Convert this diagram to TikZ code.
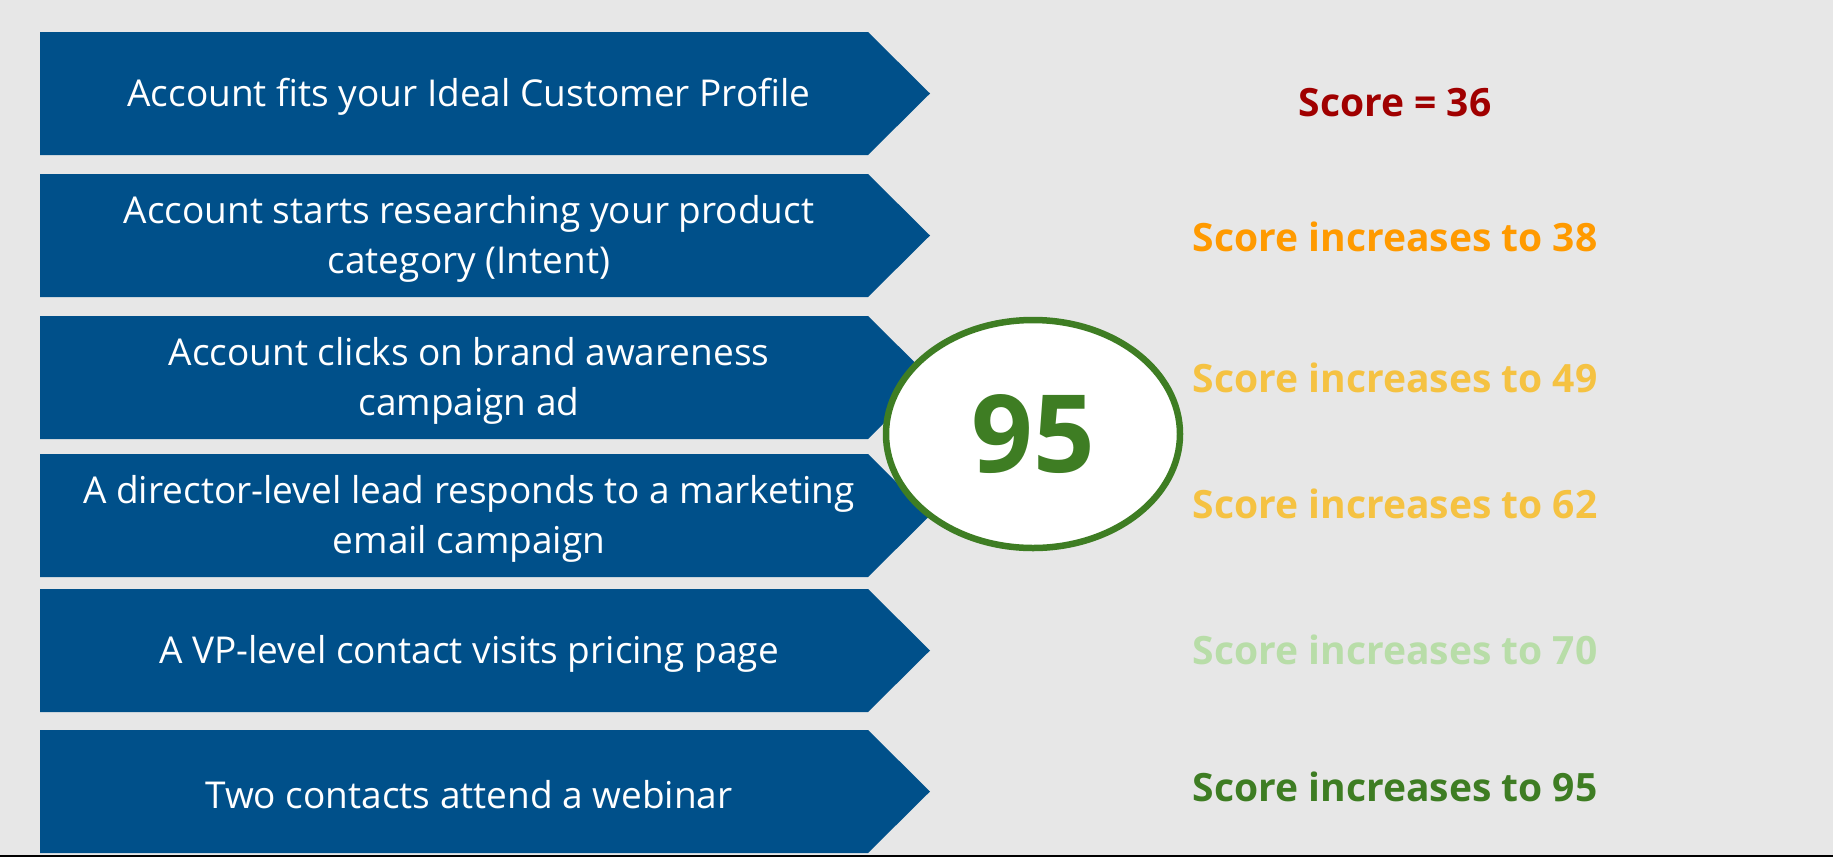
\documentclass[tikz,border=0pt]{standalone}
\usepackage{fontspec}
\setmainfont{Open Sans}
\usetikzlibrary{shapes.geometric}
\definecolor{bg}{HTML}{E7E7E7}
\definecolor{boxblue}{HTML}{00508A}
\definecolor{sred}{HTML}{A00000}
\definecolor{sorange}{HTML}{FF9A00}
\definecolor{syellow}{HTML}{F5C242}
\definecolor{slgreen}{HTML}{B8DDA8}
\definecolor{sgreen}{HTML}{3E7D23}
\newcommand\chevbox[3]{%
  \fill[boxblue] (40,#1) -- (868,#1) -- (930,#1+61.5) -- (868,#1+123) -- (40,#1+123) -- cycle;
  \node[boxtext] (#2) at (469,#1+65) {#3};}
\begin{document}
\begin{tikzpicture}[x=1pt,y=-1pt,
  boxtext/.style={text=white, align=center, font=\fontsize{37}{50}\selectfont, inner sep=0pt},
  scoretext/.style={font=\fontsize{39}{44}\selectfont\bfseries, inner sep=0pt, anchor=center}]
\useasboundingbox (0,0) rectangle (1833,857);
\fill[bg] (0,0) rectangle (1833,857);
\fill[black] (0,855) rectangle (1833,857);
\chevbox{32}{b1}{Account fits your Ideal Customer Profile}
\chevbox{174}{b2}{Account starts researching your product\\category (Intent)}
\chevbox{316}{b3}{Account clicks on brand awareness\\campaign ad}
\chevbox{454}{b4}{A director-level lead responds to a marketing\\email campaign}
\chevbox{589}{b5}{A VP-level contact visits pricing page}
\chevbox{730}{b6}{Two contacts attend a webinar}
\node[ellipse, draw=sgreen, line width=6.5pt, fill=white, minimum width=294pt, minimum height=228pt, inner sep=0pt,
  text=sgreen, font=\fontsize{108}{110}\selectfont\bfseries] (score) at (1033,434) {95};
\node[scoretext, text=sred] (s1) at (1395,103) {Score = 36};
\node[scoretext, text=sorange] (s2) at (1395,237) {Score increases to 38};
\node[scoretext, text=syellow] (s3) at (1395,378) {Score increases to 49};
\node[scoretext, text=syellow] (s4) at (1395,504) {Score increases to 62};
\node[scoretext, text=slgreen] (s5) at (1395,650) {Score increases to 70};
\node[scoretext, text=sgreen] (s6) at (1395,787) {Score increases to 95};
\end{tikzpicture}
\end{document}
